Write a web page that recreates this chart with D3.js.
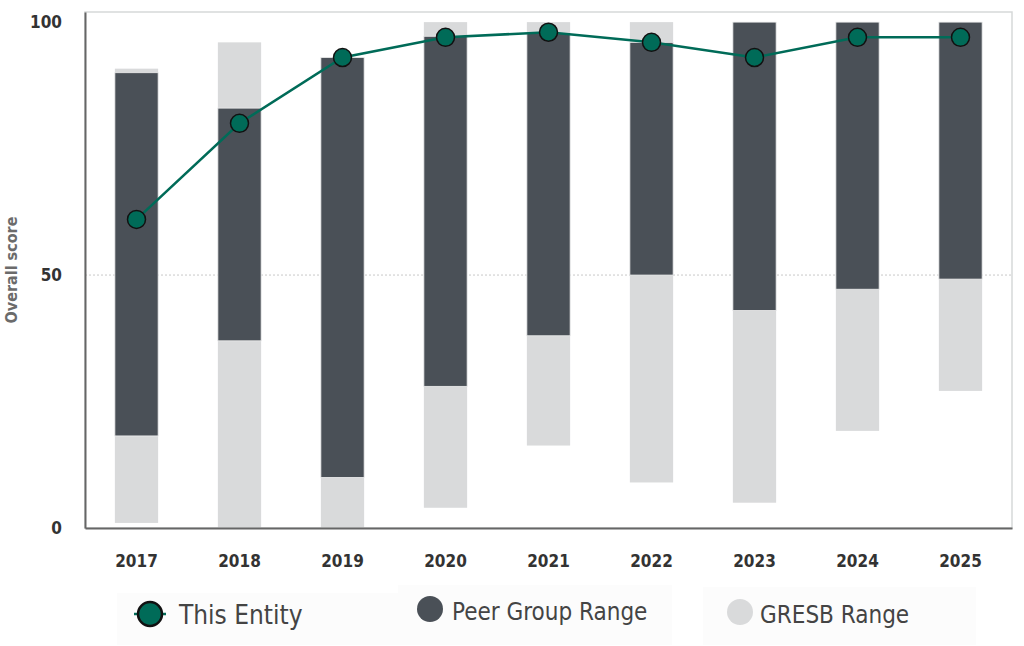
<!DOCTYPE html>
<html>
<head>
<meta charset="utf-8">
<script src="https://cdn.jsdelivr.net/npm/d3@7"></script>
<style>
  body { margin: 0; background: #fff; }
  text { font-family: "DejaVu Sans Condensed", "DejaVu Sans", sans-serif; }
</style>
</head>
<body>
<div id="chart-area"></div>
<script>
const years = ["2017", "2018", "2019", "2020", "2021", "2022", "2023", "2024", "2025"];
const gresbMin = [1, 0, 0, 4, 16.3, 9, 5, 19.2, 27.1];
const gresbMax = [90.8, 96, 93, 100, 100, 100, 100, 100, 100];
const peerMin = [18.2, 37, 10, 28, 38, 50, 43, 47.2, 49.2];
const peerMax = [90, 83, 93, 97.2, 97.8, 96, 100, 100, 100];
const entity = [61, 80, 93, 97, 98, 96, 93, 97, 97];
const yTicks = [0, 50, 100];
const legendItems = ["This Entity", "Peer Group Range", "GRESB Range"];

const green = "#006b58";
const dark = "#4a5057";
const light = "#d9dadb";

const width = 1024;
const height = 646;
const plotLeft = 85, plotRight = 1012, plotTop = 12, plotBottom = 528;

const svg = d3
  .select("#chart-area")
  .append("svg")
  .attr("width", width)
  .attr("height", height);

const x = d3.scaleBand(years, [plotLeft, plotRight]).paddingInner(0.58).paddingOuter(0.29);
const y = d3.scaleLinear([0, 102], [plotBottom, plotTop]);

// frame
svg
  .append("rect")
  .attr("x", plotLeft)
  .attr("y", plotTop)
  .attr("width", plotRight - plotLeft)
  .attr("height", plotBottom - plotTop)
  .attr("fill", "none")
  .attr("stroke", "#d6d9d9")
  .attr("stroke-width", 1.5);

// dotted 50 line
svg
  .append("line")
  .attr("x1", plotLeft)
  .attr("x2", plotRight)
  .attr("y1", y(50))
  .attr("y2", y(50))
  .attr("stroke", "#c8c8c8")
  .attr("stroke-dasharray", "2,2");

const rows = years.map((d, i) => ({
  year: d,
  gMin: gresbMin[i],
  gMax: gresbMax[i],
  pMin: peerMin[i],
  pMax: peerMax[i],
  score: entity[i],
}));

svg
  .append("g")
  .selectAll("rect")
  .data(rows)
  .join("rect")
  .attr("x", (d) => x(d.year))
  .attr("width", x.bandwidth())
  .attr("y", (d) => y(d.gMax))
  .attr("height", (d) => y(d.gMin) - y(d.gMax))
  .attr("fill", light);

svg
  .append("g")
  .selectAll("rect")
  .data(rows)
  .join("rect")
  .attr("x", (d) => x(d.year))
  .attr("width", x.bandwidth())
  .attr("y", (d) => y(d.pMax))
  .attr("height", (d) => y(d.pMin) - y(d.pMax))
  .attr("fill", dark)
  .attr("stroke", "#eeeeee")
  .attr("stroke-width", 0.8);

// axes
const yAxis = svg
  .append("g")
  .attr("transform", `translate(${plotLeft},0)`)
  .call(d3.axisLeft(y).tickValues(yTicks).tickSize(0).tickPadding(23));
yAxis.select(".domain").attr("stroke", "#666").attr("stroke-width", 2);
yAxis
  .selectAll("text")
  .attr("font-size", 17)
  .attr("font-weight", "bold")
  .attr("fill", "#333")
  .style("font-family", '"DejaVu Sans Condensed", sans-serif');

const xAxis = svg
  .append("g")
  .attr("transform", `translate(0,${plotBottom})`)
  .call(d3.axisBottom(x).tickSize(0).tickPadding(27));
xAxis.select(".domain").attr("stroke", "#666").attr("stroke-width", 2);
xAxis
  .selectAll("text")
  .attr("font-size", 17)
  .attr("font-weight", "bold")
  .attr("fill", "#333")
  .style("font-family", '"DejaVu Sans Condensed", sans-serif');

svg
  .append("text")
  .attr("transform", `translate(17,270) rotate(-90)`)
  .attr("text-anchor", "middle")
  .attr("font-size", 16)
  .attr("font-weight", "bold")
  .attr("fill", "#6b6b6b")
  .text("Overall score");

// entity line
const cx = (d) => x(d.year) + x.bandwidth() / 2;
svg
  .append("path")
  .datum(rows)
  .attr("fill", "none")
  .attr("stroke", green)
  .attr("stroke-width", 2.5)
  .attr("d", d3.line().x(cx).y((d) => y(d.score)));

svg
  .append("g")
  .selectAll("circle")
  .data(rows)
  .join("circle")
  .attr("cx", cx)
  .attr("cy", (d) => y(d.score))
  .attr("r", 9)
  .attr("fill", green)
  .attr("stroke", "#111")
  .attr("stroke-width", 1.5);

// legend
const legendBoxes = [
  { x: 117, y: 593, w: 281, h: 52 },
  { x: 398, y: 585, w: 274, h: 60 },
  { x: 703, y: 587, w: 273, h: 58 },
];
svg
  .append("g")
  .selectAll("rect")
  .data(legendBoxes)
  .join("rect")
  .attr("x", (d) => d.x)
  .attr("y", (d) => d.y)
  .attr("width", (d) => d.w)
  .attr("height", (d) => d.h)
  .attr("fill", "#fcfcfc");

const legendPos = [
  { cx: 150, cy: 614, tx: 179, ty: 624 },
  { cx: 430, cy: 609, tx: 452, ty: 620 },
  { cx: 740, cy: 612, tx: 760, ty: 623 },
];
const legendColor = d3.scaleOrdinal(legendItems, [green, dark, light]);

const legend = svg
  .append("g")
  .selectAll("g")
  .data(legendItems)
  .join("g");

legend
  .filter((d) => d === "This Entity")
  .append("line")
  .attr("x1", legendPos[0].cx - 16)
  .attr("x2", legendPos[0].cx + 16)
  .attr("y1", legendPos[0].cy)
  .attr("y2", legendPos[0].cy)
  .attr("stroke", green)
  .attr("stroke-width", 2.5);

legend
  .append("circle")
  .attr("cx", (d, i) => legendPos[i].cx)
  .attr("cy", (d, i) => legendPos[i].cy)
  .attr("r", (d) => (d === "This Entity" ? 12 : 13))
  .attr("fill", (d) => legendColor(d))
  .attr("stroke", (d) => (d === "This Entity" ? "#111" : "none"))
  .attr("stroke-width", 2.5);

legend
  .append("text")
  .attr("x", (d, i) => legendPos[i].tx)
  .attr("y", (d, i) => legendPos[i].ty)
  .attr("font-size", (d) => (d === "This Entity" ? 26 : 24))
  .attr("fill", "#444")
  .text((d) => d);
</script>
</body>
</html>
